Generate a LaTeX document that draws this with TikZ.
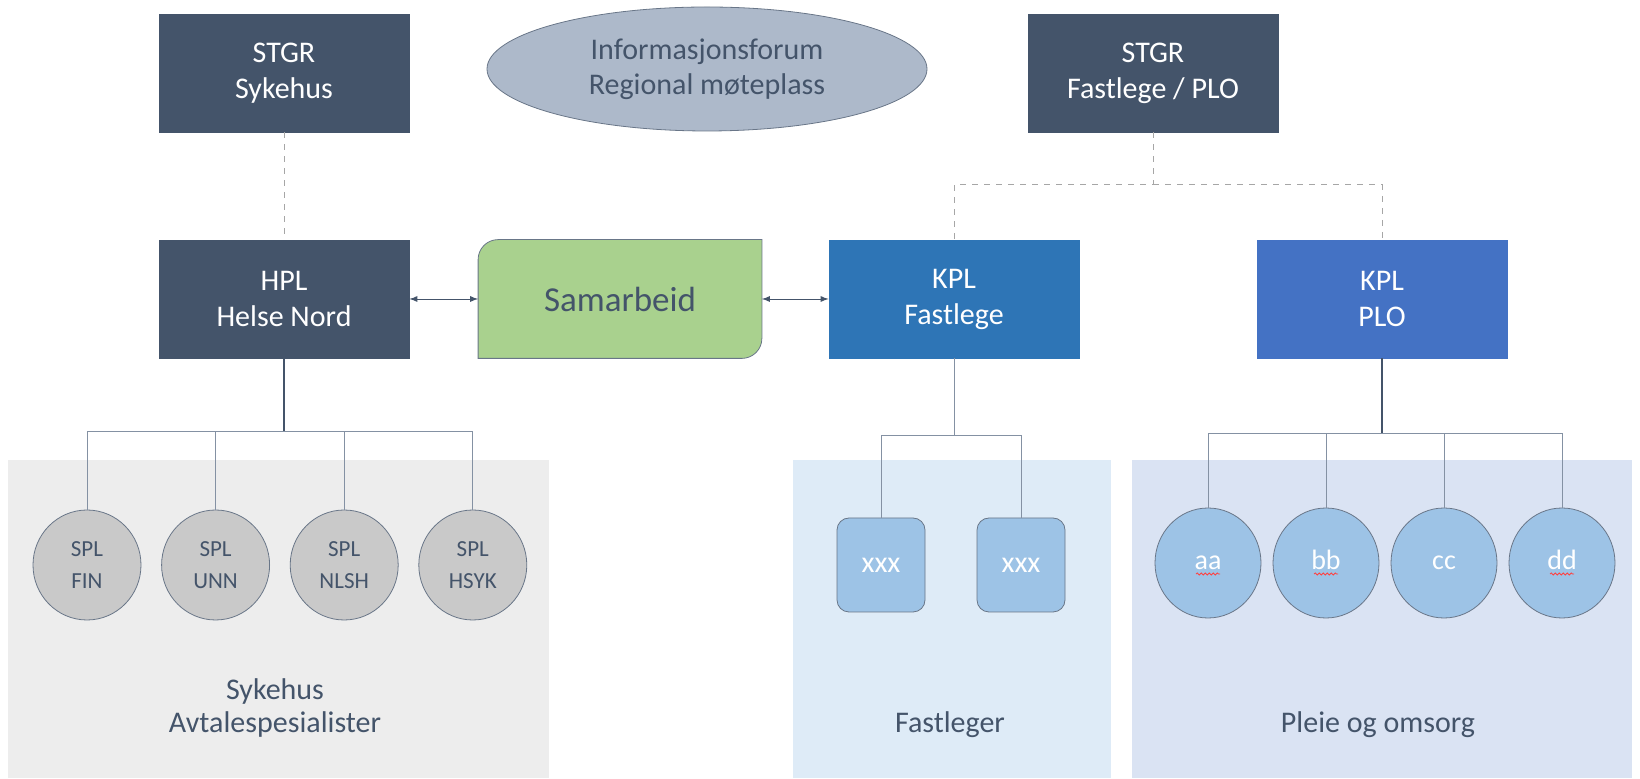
\documentclass[tikz,border=0pt]{standalone}
\usepackage{fontspec}
\setmainfont{Carlito}
\usetikzlibrary{positioning,backgrounds,shapes.geometric,decorations.pathmorphing}
\definecolor{navy}{HTML}{44546A}
\definecolor{infofill}{HTML}{ADB9CA}
\definecolor{samgreen}{HTML}{A9D18E}
\definecolor{kplblue}{HTML}{2E75B6}
\definecolor{ploblue}{HTML}{4472C4}
\definecolor{lightblue}{HTML}{9DC3E6}
\definecolor{splgray}{HTML}{C9C9C9}
\definecolor{panelgray}{HTML}{EDEDED}
\definecolor{fastpanel}{HTML}{DEEBF7}
\definecolor{pleiepanel}{HTML}{DAE3F3}
\definecolor{linegray}{HTML}{8491A3}
\definecolor{dashgray}{HTML}{A6A6A6}

\begin{document}
\begin{tikzpicture}[x=0.5pt, y=-0.5pt, on grid, thin,
lead/.style ={rectangle, fill=navy, draw=navy, text=white, minimum width=125pt, minimum height=59pt, inner sep=0pt, align=center, font=\fontsize{15}{18}\selectfont},
kpl/.style ={lead, fill=#1, draw=#1},
spl/.style ={ellipse, fill=splgray, draw=navy!80, text=navy, minimum width=54pt, minimum height=55pt, inner sep=0pt, align=center, font=\fontsize{11.5}{16}\selectfont},
plo/.style ={ellipse, fill=lightblue, draw=navy!80, text=white, minimum width=53pt, minimum height=55pt, inner sep=0pt, text height=10pt, text depth=3pt, font=\fontsize{14}{16}\selectfont},
lege/.style ={rectangle, rounded corners=6pt, fill=lightblue, draw=navy!80, text=white, minimum width=44pt, minimum height=47pt, inner sep=0pt, font=\fontsize{15}{18}\selectfont},
panel/.style ={text=navy, align=center, font=\fontsize{15}{16.5}\selectfont},
trunk/.style ={draw=navy, line width=0.9pt},
branch/.style ={draw=linegray, line width=0.5pt},
dashline/.style ={draw=dashgray, dashed, line width=0.5pt},
squiggle/.style ={draw=red!75, line width=0.4pt, decorate, decoration={snake, segment length=2pt, amplitude=0.5pt}}]
\useasboundingbox (0,0) rectangle (1640,779);

\node[lead] (sgS) at (284,73) {STGR\\Sykehus};
\node[lead] (sgF) at (1153,73) {STGR\\Fastlege / PLO};
\node[ellipse, fill=infofill, draw=navy!80, text=navy, minimum width=220pt, minimum height=62pt, inner sep=0pt, align=center, font=\fontsize{15}{17.3}\selectfont] (info) at (707,69) {Informasjonsforum\\Regional møteplass};
\node[lead] (hpl) [below = 113pt of sgS] {HPL\\Helse Nord};
\node[minimum width=141.5pt, minimum height=59pt, inner sep=0pt, text=navy, font=\fontsize{17.5}{20}\selectfont] (sam) [right = 168pt of hpl] {Samarbeid};
\node[kpl=kplblue] (kplF) [right = 167pt of sam] {KPL\\Fastlege};
\node[kpl=ploblue] (kplP) [right = 214pt of kplF] {KPL\\PLO};

\node[spl] (fin) at (87,565) {SPL\\FIN};
\node[spl] (unn) [right = 64.3pt of fin] {SPL\\UNN};
\node[spl] (nlsh) [right = 64.3pt of unn] {SPL\\NLSH};
\node[spl] (hsyk) [right = 64.3pt of nlsh] {SPL\\HSYK};

\node[lege] (xa) at (881,565) {xxx};
\node[lege] (xb) [right = 70pt of xa] {xxx};

\node[plo] (aa) at (1208,563) {aa};
\node[plo] (bb) [right = 59pt of aa] {bb};
\node[plo] (cc) [right = 59pt of bb] {cc};
\node[plo] (dd) [right = 59pt of cc] {dd};

\node[panel] (sykehus) at (275,708) {Sykehus\\Avtalespesialister};
\node[panel] (fastleger) at (950,725) {Fastleger};
\node[panel] (pleie) at (1378,725) {Pleie og omsorg};

\begin{scope}[on background layer]
\fill[panelgray] (8,460) rectangle (549,778);
\fill[fastpanel] (793,460) rectangle (1111,778);
\fill[pleiepanel] (1132,460) rectangle (1632,778);
\draw[fill=samgreen, draw=navy!80] ([yshift=-10pt]sam.north west) arc[start angle=180, end angle=90, radius=10pt]
  -- (sam.north east) -- ([yshift=10pt]sam.south east) arc[start angle=0, end angle=-90, radius=10pt]
  -- (sam.south west) -- cycle;
\end{scope}

\coordinate (busH) at (284,432);
\coordinate (busF) at (954,436);
\coordinate (busP) at (1382,434);
\coordinate (dashF) at (1153,185);

\draw[dashline] (sgS) -- (hpl);
\draw[dashline] (sgF) -- (dashF) -| (kplF);
\draw[dashline] (dashF) -| (kplP);

\draw[navy, latex-latex] (hpl) -- (sam);
\draw[navy, latex-latex] (sam) -- (kplF);

\draw[trunk] (hpl) -- (busH);
\draw[branch] (busH) -| (fin);
\draw[branch] (busH) -| (unn);
\draw[branch] (busH) -| (nlsh);
\draw[branch] (busH) -| (hsyk);

\draw[branch] (kplF) -- (busF);
\draw[branch] (busF) -| (xa);
\draw[branch] (busF) -| (xb);

\draw[trunk] (kplP) -- (busP);
\draw[branch] (busP) -| (aa);
\draw[branch] (busP) -| (bb);
\draw[branch] (busP) -| (cc);
\draw[branch] (busP) -| (dd);

\draw[squiggle] ([xshift=-6pt, yshift=-5.5pt]aa.center) -- ([xshift=6pt, yshift=-5.5pt]aa.center);
\draw[squiggle] ([xshift=-6pt, yshift=-5.5pt]bb.center) -- ([xshift=6pt, yshift=-5.5pt]bb.center);
\draw[squiggle] ([xshift=-6pt, yshift=-5.5pt]dd.center) -- ([xshift=6pt, yshift=-5.5pt]dd.center);
\end{tikzpicture}
\end{document}
